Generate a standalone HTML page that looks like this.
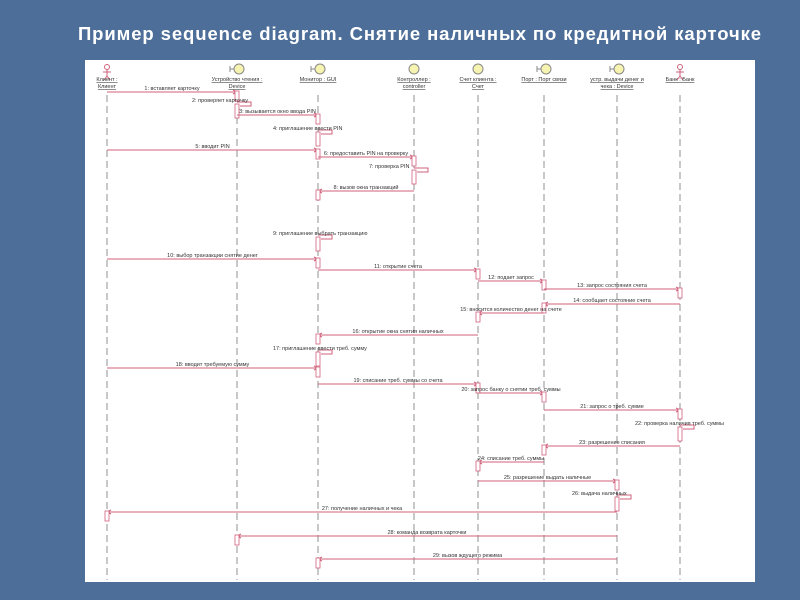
<!DOCTYPE html>
<html><head><meta charset="utf-8">
<style>
html,body{margin:0;padding:0;width:800px;height:600px;overflow:hidden;background:#4c6e98;}
#title{position:absolute;left:0;width:840px;top:23px;text-align:center;color:#fff;font:bold 18.5px "Liberation Sans","Noto Sans CJK SC",sans-serif;letter-spacing:0.9px;}
#panel{position:absolute;left:85px;top:60px;width:670px;height:522px;background:#fff;}
svg{position:absolute;left:0;top:0}
</style></head>
<body>
<div id="title">Пример sequence diagram. Снятие наличных по кредитной карточке</div>
<div id="panel"></div>
<svg id="sd" width="800" height="600"></svg>
<script>
const objNames=["Клиент :\nКлиент","Устройство чтения :\nDevice","Монитор : GUI","Контроллер :\ncontroller","Счет клиента :\nСчет","Порт : Порт связи","устр. выдачи денег и\nчека : Device","Банк : Банк"];
const objKinds=["actor","boundary","boundary","control","entity","boundary","boundary","actor"];
const objX=[107,237,318,414,478,544,617,680];
const msgLabels=["1: вставляет карточку","2: проверяет карточку","3: вызывается окно ввода PIN","4: приглашение ввести PIN","5: вводит PIN","6: предоставить PIN на проверку","7: проверка PIN","8: вызов окна транзакций","9: приглашение выбрать транзакцию","10: выбор транзакции снятие денег","11: открытие счета","12: подает запрос","13: запрос состояния счета","14: сообщает состояние счета","15: вносится количество денег на счете","16: открытие окна снятия наличных","17: приглашение ввести треб. сумму","18: вводит требуемую сумму","19: списание треб. суммы со счета","20: запрос банку о снятии треб. суммы","21: запрос о треб. сумме","22: проверка наличия треб. суммы","23: разрешение списания","24: списание треб. суммы","25: разрешение выдать наличные","26: выдача наличных","27: получение наличных и чека","28: команда возврата карточки","29: вызов ждущего режима"];
const msgFrom=[0,1,1,2,0,2,3,3,2,0,2,4,5,7,5,4,2,0,2,4,5,7,7,5,4,6,6,6,6];
const msgTo  =[1,1,2,2,2,3,3,2,2,2,4,5,7,5,4,2,2,2,4,5,7,7,5,4,6,6,0,1,2];
const msgY=[92,104,115,132,150,157,170,191,237,259,270,281,289,304,313,335,352,368,384,393,410,427,446,462,481,497,512,536,559];
const S="http://www.w3.org/2000/svg",svg=document.getElementById('sd'),C="#d0607a";
function mk(t,a,p){const e=document.createElementNS(S,t);for(const k in a)e.setAttribute(k,a[k]);(p||svg).appendChild(e);return e;}
objX.forEach((x,i)=>{
  const g=mk('g',{});
  
  
  mk('line',{x1:x,y1:95,x2:x,y2:580,stroke:"#777","stroke-width":0.8,"stroke-dasharray":"7,4"},g);
  if(objKinds[i]=="actor"){
    mk('circle',{cx:x,cy:67,r:2.5,fill:"none",stroke:C},g);
    mk('path',{d:`M${x} 70v6M${x-4} 72h8M${x} 76l-3 4M${x} 76l3 4`,stroke:C,fill:"none"},g);
  }else{
    mk('circle',{cx:x+(objKinds[i]=="boundary"?2:0),cy:69,r:5,fill:"#f7f3b0",stroke:"#888"},g);
    if(objKinds[i]=="boundary")mk('path',{d:`M${x-7} 66v6M${x-7} 69h4`,stroke:"#888",fill:"none"},g);
  }
  objNames[i].split("\n").forEach((s,j)=>{const t=mk('text',{x:x,y:81+j*7,"font-size":5.5,"text-anchor":"middle",fill:"#333","font-family":"Liberation Sans, sans-serif","text-decoration":"underline"},g);t.textContent=s;});
});
msgLabels.forEach((lab,i)=>{
  const g=mk('g',{});
  
  
  const a=objX[msgFrom[i]],b=objX[msgTo[i]],y=msgY[i];
  let tx;
  if(a==b){
    mk('path',{d:`M${a} ${y-2}h14v4h-11`,stroke:C,fill:"none"},g);
    mk('rect',{x:a-2,y:y,width:4,height:14,fill:"#fff",stroke:C,"stroke-width":0.8},g);
    tx=a-45;
  }else{
    mk('line',{x1:a,y1:y,x2:b,y2:y,stroke:C,"stroke-width":1},g);
    const d=b>a?-1:1;
    mk('path',{d:`M${b+d*4} ${y-2}L${b} ${y}L${b+d*4} ${y+2}`,stroke:C,fill:"none"},g);
    mk('rect',{x:b-2,y:y-1,width:4,height:10,fill:"#fff",stroke:C,"stroke-width":0.8},g);
    tx=(a+b)/2;
  }
  const t=mk('text',{x:tx,y:y-2,"font-size":5.5,"text-anchor":a==b?"start":"middle",fill:"#333","font-family":"Liberation Sans, sans-serif"},g);
  t.textContent=lab;
});
</script>
</body></html>
